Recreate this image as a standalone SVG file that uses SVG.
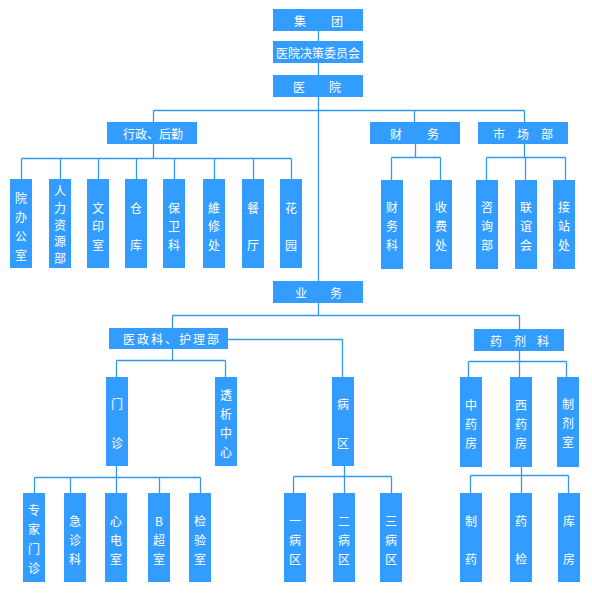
<svg xmlns="http://www.w3.org/2000/svg" width="592" height="600" viewBox="0 0 592 600">
<style>
.b{fill:#339dff}
.t{fill:#fff;font-family:"Noto Sans CJK SC","Noto Sans",sans-serif;font-size:12px;text-anchor:middle;dominant-baseline:central}
.c{fill:none;stroke:#3399ee;stroke-width:1.3}
</style>
<rect width="592" height="600" fill="#fff"/>
<g id="connectors" class="c">
<path d="M318.5 31V41M318.5 63V75M318.5 97V281"/>
<path d="M153.5 110.5H524.5M153.5 110.5V122M414.5 110.5V122M524.5 110.5V122"/>
<path d="M153.5 144V158.5M21.5 158.5H291.5M21.5 158.5V179M60.5 158.5V179M98.5 158.5V179M136.5 158.5V179M174.5 158.5V179M214.5 158.5V179M253.5 158.5V179M291.5 158.5V179"/>
<path d="M415.5 144V157.5M391.5 157.5H440.5M391.5 157.5V180M440.5 157.5V180"/>
<path d="M524.5 144V157.5M486.5 157.5H565.5M486.5 157.5V180M525.5 157.5V180M565.5 157.5V180"/>
<path d="M318.5 303V315.5M172.5 315.5H519.5M172.5 315.5V328M519.5 315.5V329"/>
<path d="M228 339.5H342.5V377"/>
<path d="M172.5 349V360.5M116.5 360.5H225.5M116.5 360.5V377M225.5 360.5V377"/>
<path d="M116.5 466V477.5M34.5 477.5H200.5M34.5 477.5V493M70.5 477.5V493M116.5 477.5V493M159.5 477.5V493M200.5 477.5V493"/>
<path d="M344.5 466V476.5M293.5 476.5H391.5M293.5 476.5V493M344.5 476.5V493M391.5 476.5V493"/>
<path d="M519.5 351V361.5M468.5 361.5H566.5M468.5 361.5V377M519.5 361.5V377M566.5 361.5V377"/>
<path d="M521.5 467V475.5M470.5 475.5H568.5M470.5 475.5V493M521.5 475.5V493M568.5 475.5V493"/>
</g>
<g id="n-jituan"><rect class="b" x="273" y="9" width="90" height="22"/><text class="t" x="300" y="20">集</text><text class="t" x="337" y="20">团</text></g>
<g id="n-juece"><rect class="b" x="273" y="41" width="90" height="22"/><text class="t" x="318" y="52">医院决策委员会</text></g>
<g id="n-yiyuan"><rect class="b" x="273" y="75" width="90" height="22"/><text class="t" x="299" y="86">医</text><text class="t" x="335" y="86">院</text></g>
<g id="n-xingzheng"><rect class="b" x="107" y="122" width="90" height="22"/><text class="t" x="153" y="133">行政、后勤</text></g>
<g id="n-caiwu"><rect class="b" x="370" y="122" width="90" height="22"/><text class="t" x="396" y="133">财</text><text class="t" x="433" y="133">务</text></g>
<g id="n-shichang"><rect class="b" x="478" y="122" width="90" height="22"/><text class="t" x="499" y="133">市</text><text class="t" x="523" y="133">场</text><text class="t" x="547" y="133">部</text></g>
<g id="n-yewu"><rect class="b" x="273" y="281" width="90" height="22"/><text class="t" x="301" y="292">业</text><text class="t" x="336" y="292">务</text></g>
<g id="n-yizheng"><rect class="b" x="109" y="328" width="119" height="21"/><text class="t" x="172" y="338.5" letter-spacing="2">医政科、护理部</text></g>
<g id="n-yaoji"><rect class="b" x="474" y="329" width="90" height="22"/><text class="t" x="496" y="340">药</text><text class="t" x="520" y="340">剂</text><text class="t" x="543" y="340">科</text></g>

<g id="n-yuanban"><rect class="b" x="10" y="179" width="22" height="89"/><text class="t"><tspan x="21" y="196.5">院</tspan><tspan x="21" y="215.5">办</tspan><tspan x="21" y="234.5">公</tspan><tspan x="21" y="253.5">室</tspan></text></g>
<g id="n-renli"><rect class="b" x="49" y="179" width="22" height="89"/><text class="t"><tspan x="60" y="190">人</tspan><tspan x="60" y="207">力</tspan><tspan x="60" y="224">资</tspan><tspan x="60" y="240">源</tspan><tspan x="60" y="257">部</tspan></text></g>
<g id="n-wenyin"><rect class="b" x="87" y="179" width="22" height="89"/><text class="t"><tspan x="98" y="206.5">文</tspan><tspan x="98" y="225">印</tspan><tspan x="98" y="243.5">室</tspan></text></g>
<g id="n-cangku"><rect class="b" x="125" y="179" width="22" height="89"/><text class="t"><tspan x="136" y="206.5">仓</tspan><tspan x="136" y="243.5">库</tspan></text></g>
<g id="n-baowei"><rect class="b" x="163" y="179" width="22" height="89"/><text class="t"><tspan x="174" y="206.5">保</tspan><tspan x="174" y="225">卫</tspan><tspan x="174" y="243.5">科</tspan></text></g>
<g id="n-weixiu"><rect class="b" x="203" y="179" width="22" height="89"/><text class="t"><tspan x="214" y="206.5">維</tspan><tspan x="214" y="225">修</tspan><tspan x="214" y="243.5">处</tspan></text></g>
<g id="n-canting"><rect class="b" x="242" y="179" width="22" height="89"/><text class="t"><tspan x="253" y="206.5">餐</tspan><tspan x="253" y="243.5">厅</tspan></text></g>
<g id="n-huayuan"><rect class="b" x="280" y="179" width="22" height="89"/><text class="t"><tspan x="291" y="206.5">花</tspan><tspan x="291" y="243.5">园</tspan></text></g>

<g id="n-caiwuke"><rect class="b" x="381" y="180" width="22" height="89"/><text class="t"><tspan x="392" y="206">财</tspan><tspan x="392" y="225">务</tspan><tspan x="392" y="244">科</tspan></text></g>
<g id="n-shoufei"><rect class="b" x="430" y="180" width="22" height="89"/><text class="t"><tspan x="441" y="206">收</tspan><tspan x="441" y="225">费</tspan><tspan x="441" y="244">处</tspan></text></g>
<g id="n-zixun"><rect class="b" x="476" y="180" width="22" height="89"/><text class="t"><tspan x="487" y="206">咨</tspan><tspan x="487" y="225">询</tspan><tspan x="487" y="244">部</tspan></text></g>
<g id="n-lianyi"><rect class="b" x="515" y="180" width="22" height="89"/><text class="t"><tspan x="526" y="206">联</tspan><tspan x="526" y="225">谊</tspan><tspan x="526" y="244">会</tspan></text></g>
<g id="n-jiezhan"><rect class="b" x="553" y="180" width="22" height="89"/><text class="t"><tspan x="564" y="206">接</tspan><tspan x="564" y="225">站</tspan><tspan x="564" y="244">处</tspan></text></g>

<g id="n-menzhen"><rect class="b" x="106" y="377" width="22" height="89"/><text class="t"><tspan x="117" y="403">门</tspan><tspan x="117" y="442">诊</tspan></text></g>
<g id="n-touxi"><rect class="b" x="215" y="377" width="22" height="89"/><text class="t"><tspan x="226" y="394">透</tspan><tspan x="226" y="413">析</tspan><tspan x="226" y="432">中</tspan><tspan x="226" y="451">心</tspan></text></g>
<g id="n-bingqu"><rect class="b" x="332" y="377" width="22" height="89"/><text class="t"><tspan x="343" y="403">病</tspan><tspan x="343" y="442">区</tspan></text></g>
<g id="n-zhongyao"><rect class="b" x="460" y="377" width="22" height="90"/><text class="t"><tspan x="471" y="403.5">中</tspan><tspan x="471" y="422.5">药</tspan><tspan x="471" y="441.5">房</tspan></text></g>
<g id="n-xiyao"><rect class="b" x="510" y="377" width="22" height="90"/><text class="t"><tspan x="521" y="403.5">西</tspan><tspan x="521" y="422.5">药</tspan><tspan x="521" y="441.5">房</tspan></text></g>
<g id="n-zhiji"><rect class="b" x="557" y="377" width="22" height="90"/><text class="t"><tspan x="568" y="403">制</tspan><tspan x="568" y="422">剂</tspan><tspan x="568" y="441">室</tspan></text></g>

<g id="n-zhuanjia"><rect class="b" x="23" y="493" width="22" height="89"/><text class="t"><tspan x="34" y="508.5">专</tspan><tspan x="34" y="528">家</tspan><tspan x="34" y="547.5">门</tspan><tspan x="34" y="567">诊</tspan></text></g>
<g id="n-jizhen"><rect class="b" x="64" y="493" width="22" height="89"/><text class="t"><tspan x="75" y="519.5">急</tspan><tspan x="75" y="538.5">诊</tspan><tspan x="75" y="557.5">科</tspan></text></g>
<g id="n-xindian"><rect class="b" x="105" y="493" width="22" height="89"/><text class="t"><tspan x="116" y="519.5">心</tspan><tspan x="116" y="538.5">电</tspan><tspan x="116" y="557.5">室</tspan></text></g>
<g id="n-bchao"><rect class="b" x="148" y="493" width="22" height="89"/><text class="t"><tspan x="159" y="519.5">B</tspan><tspan x="159" y="538.5">超</tspan><tspan x="159" y="557.5">室</tspan></text></g>
<g id="n-jianyan"><rect class="b" x="189" y="493" width="22" height="89"/><text class="t"><tspan x="200" y="519.5">检</tspan><tspan x="200" y="538.5">验</tspan><tspan x="200" y="557.5">室</tspan></text></g>
<g id="n-yibing"><rect class="b" x="284" y="493" width="22" height="89"/><text class="t"><tspan x="295" y="519.5">一</tspan><tspan x="295" y="538.5">病</tspan><tspan x="295" y="557.5">区</tspan></text></g>
<g id="n-erbing"><rect class="b" x="333" y="493" width="22" height="89"/><text class="t"><tspan x="344" y="519.5">二</tspan><tspan x="344" y="538.5">病</tspan><tspan x="344" y="557.5">区</tspan></text></g>
<g id="n-sanbing"><rect class="b" x="380" y="493" width="22" height="89"/><text class="t"><tspan x="391" y="519.5">三</tspan><tspan x="391" y="538.5">病</tspan><tspan x="391" y="557.5">区</tspan></text></g>
<g id="n-zhiyao"><rect class="b" x="460" y="493" width="22" height="89"/><text class="t"><tspan x="471" y="519.5">制</tspan><tspan x="471" y="557.5">药</tspan></text></g>
<g id="n-yaojian"><rect class="b" x="510" y="493" width="22" height="89"/><text class="t"><tspan x="521" y="519.5">药</tspan><tspan x="521" y="557.5">检</tspan></text></g>
<g id="n-kufang"><rect class="b" x="558" y="493" width="22" height="89"/><text class="t"><tspan x="569" y="519.5">库</tspan><tspan x="569" y="557.5">房</tspan></text></g>
</svg>
